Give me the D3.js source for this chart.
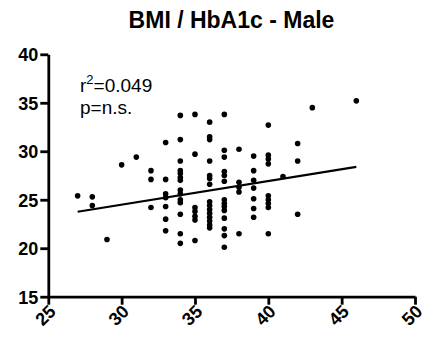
<!DOCTYPE html>
<html>
<head>
<meta charset="utf-8">
<script src="https://cdn.jsdelivr.net/npm/d3@7"></script>
<style>
  html, body { margin: 0; padding: 0; background: #fff; }
  svg { display: block; font-family: "Liberation Sans", Arial, sans-serif; }
</style>
</head>
<body>
<svg id="chart" width="434" height="345"></svg>
<script>
// HbA1c values (x) and BMI readings (y) for each observed HbA1c level
const hba1cLevels = [27, 28, 29, 30, 31, 32, 33, 34, 35, 36, 37, 38, 39, 40, 41, 42, 43, 46];
const bmiByLevel = [
  [25.4],
  [25.3, 24.4],
  [20.9],
  [28.6],
  [29.4],
  [28.0, 27.1, 24.2],
  [30.9, 27.1, 25.6, 25.2, 24.3, 23.0, 21.8],
  [33.7, 31.2, 29.0, 28.0, 27.7, 27.3, 27.0, 26.0, 25.6, 25.0, 24.7, 23.5, 21.5, 20.5],
  [33.8, 29.7, 24.2, 23.8, 23.3, 22.9, 20.8],
  [33.0, 31.5, 31.2, 29.0, 27.5, 27.2, 26.6, 24.8, 24.4, 24.0, 23.6, 23.2, 22.8, 22.4, 22.1],
  [33.8, 30.1, 29.4, 27.9, 27.5, 26.9, 25.0, 24.6, 24.3, 23.9, 23.1, 22.0, 21.3, 20.1],
  [30.2, 26.8, 26.3, 25.8, 21.5],
  [29.5, 28.0, 27.0, 26.2, 25.1, 24.1, 23.2],
  [32.7, 29.6, 29.2, 28.7, 25.4, 25.0, 24.6, 24.2, 21.5],
  [27.4],
  [30.8, 29.0, 23.5],
  [34.5],
  [35.2]
];

// Linear fit of BMI on HbA1c
const fitSlope = 0.244;
const fitIntercept = 17.17;
const rSquared = "0.049";
const pLabel = "p=n.s.";

const xTicks = [25, 30, 35, 40, 45, 50];
const yTicks = [15, 20, 25, 30, 35, 40];
const title = "BMI / HbA1c - Male";

const points = [];
hba1cLevels.forEach((x, i) => bmiByLevel[i].forEach(y => points.push({ x, y })));

const svg = d3.select("#chart");
const x = d3.scaleLinear().domain([25, 50]).range([48.3, 415]);
const y = d3.scaleLinear().domain([15, 40]).range([296.7, 54.3]);

// Title
svg.append("text")
  .attr("x", 231.5).attr("y", 28)
  .attr("text-anchor", "middle")
  .attr("font-weight", "bold").attr("font-size", 23)
  .text(title);

// Y axis
const yAxis = svg.append("g")
  .attr("transform", `translate(${x.range()[0]},0)`)
  .call(d3.axisLeft(y).tickValues(yTicks).tickSize(8).tickPadding(2).tickSizeOuter(0));

// X axis
const xAxis = svg.append("g")
  .attr("transform", `translate(0,${y.range()[0]})`)
  .call(d3.axisBottom(x).tickValues(xTicks).tickSize(8).tickSizeOuter(0));

[yAxis, xAxis].forEach(g => {
  g.select(".domain").attr("stroke", "#000").attr("stroke-width", 2.8);
  g.selectAll(".tick line").attr("stroke", "#000").attr("stroke-width", 2.8);
  g.selectAll(".tick text")
    .attr("fill", "#000")
    .attr("font-family", "'Liberation Sans', Arial, sans-serif")
    .attr("font-weight", "bold").attr("font-size", 18);
});

xAxis.selectAll(".tick text")
  .attr("text-anchor", "end")
  .attr("dy", null)
  .attr("y", 0)
  .attr("transform", "translate(8,16) rotate(-45)");

yAxis.selectAll(".tick text").attr("dy", "0.36em");

// Scatter points
svg.append("g").selectAll("circle")
  .data(points).join("circle")
  .attr("cx", d => x(d.x)).attr("cy", d => y(d.y))
  .attr("r", 2.8).attr("fill", "#000");

// Regression line across the observed HbA1c range
const xMin = d3.min(hba1cLevels), xMax = d3.max(hba1cLevels);
svg.append("line")
  .attr("x1", x(xMin)).attr("y1", y(fitIntercept + fitSlope * xMin))
  .attr("x2", x(xMax)).attr("y2", y(fitIntercept + fitSlope * xMax))
  .attr("stroke", "#000").attr("stroke-width", 2.2);

// Fit statistics
const stats = svg.append("g").attr("font-size", 19);
const r2 = stats.append("text").attr("x", 80).attr("y", 92);
r2.append("tspan").text("r");
r2.append("tspan").attr("font-size", 13).attr("dy", -8).text("2");
r2.append("tspan").attr("dy", 8).text("=" + rSquared);
stats.append("text").attr("x", 80).attr("y", 114).text(pLabel);
</script>
</body>
</html>
